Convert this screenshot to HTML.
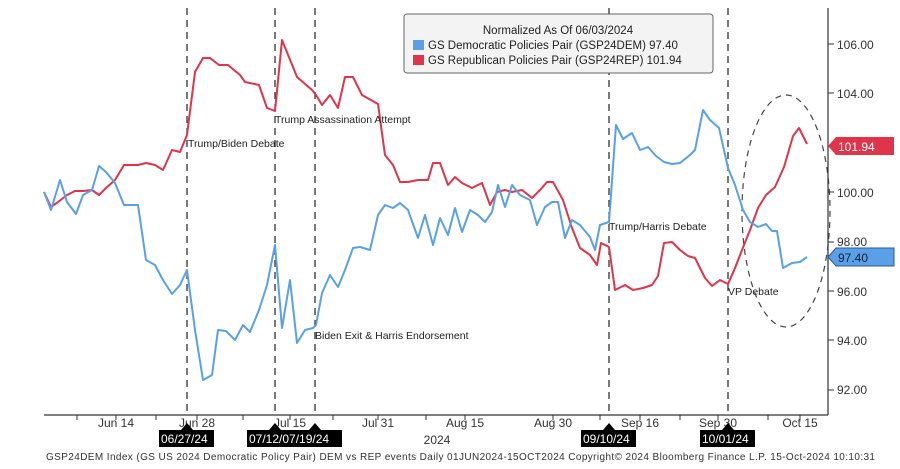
<!DOCTYPE html><html><head><style>body{margin:0;background:#fff}svg{display:block;font-family:"Liberation Sans",sans-serif}</style></head><body>
<svg width="900" height="469" viewBox="0 0 900 469">
<g stroke="#333" stroke-width="1.3" stroke-dasharray="7,5" fill="none">
<line x1="187" y1="8" x2="187" y2="415"/><line x1="275" y1="8" x2="275" y2="415"/><line x1="315" y1="8" x2="315" y2="415"/><line x1="609" y1="8" x2="609" y2="415"/><line x1="728" y1="8" x2="728" y2="415"/>
<ellipse cx="786" cy="211" rx="44" ry="116" stroke-width="1.2" stroke-dasharray="6,5" stroke="#444"/>
</g>
<polyline fill="none" stroke="#e0344a" stroke-width="2" stroke-linejoin="round" points="44,192 51,207 58,202 67,195 75,191 83,191 92,190 99,195 106,188 115,180 124,165 138,165 146,163 155,165 163,170 172,150 180,152 187,135 195,72 203,58 210,58 219,65 228,65 240,75 245,82 259,85 267,108 275,111 282,40 297,77 312,90 316,95 322,105 330,95 338,108 345,77 353,77 362,95 378,104 385,155 393,165 400,182 408,182 418,180 428,180 433,163 440,163 448,185 455,177 462,183 472,188 482,183 490,205 497,192 505,190 512,192 522,190 532,198 540,190 547,182 553,182 563,200 572,228 580,248 590,255 597,265 601,243 609,247 615,290 625,285 633,290 643,288 652,285 658,276 664,243 672,242 680,250 688,256 695,258 705,278 712,286 720,280 728,284 735,268 742,250 750,230 758,208 766,195 775,187 784,167 793,136 799,128 807,144"/>
<polyline fill="none" stroke="#5aa0e8" stroke-width="2" stroke-linejoin="round" points="44,192 51,210 60,180 67,202 76,214 83,195 92,190 99,166 106,172 115,183 124,205 138,205 146,260 155,265 163,280 172,294 180,285 187,270 195,330 203,380 212,375 218,330 226,331 235,340 243,325 250,332 259,310 267,285 275,245 282,328 290,280 297,343 305,330 313,328 316,325 322,293 330,275 338,287 345,270 353,248 360,247 370,250 378,215 385,205 393,208 400,203 408,210 418,238 425,215 433,245 440,218 448,235 455,208 462,232 470,210 478,215 485,222 492,212 498,185 505,207 512,185 520,195 530,200 537,225 545,207 552,202 558,202 565,238 572,220 580,225 590,237 595,250 600,225 609,222 616,125 623,139 632,133 640,150 648,147 656,156 664,162 672,164 680,163 690,155 695,150 703,110 710,120 719,128 728,168 735,185 743,210 750,222 758,227 766,224 772,231 777,231 783,268 792,263 800,262 807,257"/>
<g font-size="10.5" fill="#222">
<text x="188" y="147">Trump/Biden Debate</text>
<text x="275" y="123">Trump Assassination Attempt</text>
<text x="315" y="339">Biden Exit &amp; Harris Endorsement</text>
<text x="609" y="230">Trump/Harris Debate</text>
<text x="728" y="295">VP Debate</text>
</g>
<rect x="404" y="14" width="309" height="59" rx="3" fill="#f3f3f3" stroke="#666"/>
<g font-size="11.5" fill="#222">
<text x="558" y="34" text-anchor="middle">Normalized As Of 06/03/2024</text>
<rect x="413" y="40" width="11" height="10" fill="#5aa0e8"/><text x="428" y="49">GS Democratic Policies Pair (GSP24DEM)  97.40</text>
<rect x="413" y="55" width="11" height="10" fill="#e0344a"/><text x="428" y="64">GS Republican Policies Pair (GSP24REP)  101.94</text>
</g>
<g stroke="#333" stroke-width="1.2"><line x1="44" y1="415" x2="828" y2="415"/><line x1="828" y1="8" x2="828" y2="415"/></g>
<g stroke="#333" stroke-width="1"><line x1="828" y1="44" x2="834" y2="44"/><line x1="828" y1="93" x2="834" y2="93"/><line x1="828" y1="192" x2="834" y2="192"/><line x1="828" y1="242" x2="834" y2="242"/><line x1="828" y1="291" x2="834" y2="291"/><line x1="828" y1="340" x2="834" y2="340"/><line x1="828" y1="390" x2="834" y2="390"/>
<line x1="77" y1="415" x2="77" y2="420"/><line x1="116" y1="415" x2="116" y2="420"/><line x1="156" y1="415" x2="156" y2="420"/><line x1="197" y1="415" x2="197" y2="420"/><line x1="243" y1="415" x2="243" y2="420"/><line x1="290" y1="415" x2="290" y2="420"/><line x1="333" y1="415" x2="333" y2="420"/><line x1="378" y1="415" x2="378" y2="420"/><line x1="426" y1="415" x2="426" y2="420"/><line x1="465" y1="415" x2="465" y2="420"/><line x1="553" y1="415" x2="553" y2="420"/><line x1="600" y1="415" x2="600" y2="420"/><line x1="640" y1="415" x2="640" y2="420"/><line x1="680" y1="415" x2="680" y2="420"/><line x1="718" y1="415" x2="718" y2="420"/><line x1="768" y1="415" x2="768" y2="420"/><line x1="800" y1="415" x2="800" y2="420"/></g>
<g font-size="12" fill="#333">
<text x="837" y="49">106.00</text><text x="837" y="98">104.00</text><text x="837" y="197">100.00</text><text x="837" y="246">98.00</text><text x="837" y="296">96.00</text><text x="837" y="345">94.00</text><text x="837" y="394">92.00</text>
</g>
<path d="M828,146 l8,-9 h58 v18 h-58z" fill="#e0344a"/><text x="838" y="151" font-size="12" fill="#fff">101.94</text>
<path d="M828,257 l8,-9 h58 v18 h-58z" fill="#5aa0e8" stroke="#2a5a9a"/><text x="838" y="262" font-size="12" fill="#123">97.40</text>
<g font-size="12" fill="#333" text-anchor="middle">
<text x="116" y="427">Jun 14</text><text x="197" y="427">Jun 28</text><text x="290" y="427">Jul 15</text><text x="378" y="427">Jul 31</text><text x="465" y="427">Aug 15</text><text x="553" y="427">Aug 30</text><text x="640" y="427">Sep 16</text><text x="718" y="427">Sep 30</text><text x="800" y="427">Oct 15</text><text x="437" y="444">2024</text>
</g>
<g fill="#000"><path d="M181,430 l6,-7 l6,7z"/><path d="M269,430 l6,-7 l6,7z"/><path d="M309,430 l6,-7 l6,7z"/><path d="M603,430 l6,-7 l6,7z"/><path d="M722,430 l6,-7 l6,7z"/>
<rect x="159" y="430" width="55" height="17"/><rect x="247" y="430" width="95" height="17"/><rect x="581" y="430" width="55" height="17"/><rect x="700" y="430" width="55" height="17"/></g>
<g font-size="12" fill="#fff"><text x="161" y="443">06/27/24</text><text x="249" y="443">07/12/07/19/24</text><text x="583" y="443">09/10/24</text><text x="702" y="443">10/01/24</text></g>
<text x="46" y="460" font-size="10" fill="#333" textLength="829" lengthAdjust="spacing">GSP24DEM Index (GS US 2024 Democratic Policy Pair) DEM vs REP events  Daily 01JUN2024-15OCT2024  Copyright© 2024 Bloomberg Finance L.P.  15-Oct-2024 10:10:31</text>
</svg></body></html>
